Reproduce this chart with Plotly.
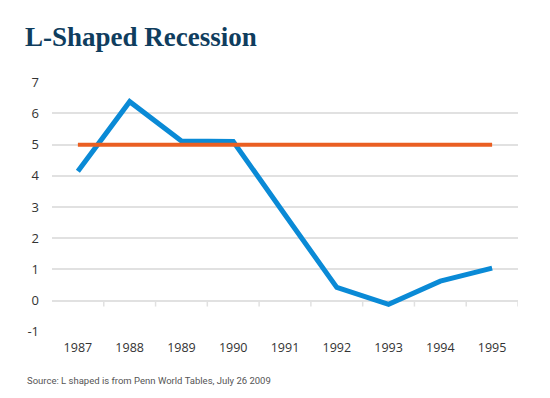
import plotly.graph_objects as go

years = ["1987", "1988", "1989", "1990", "1991", "1992", "1993", "1994", "1995"]
l_shaped = [4.15, 6.38, 5.12, 5.1, 2.75, 0.42, -0.12, 0.62, 1.04]
trend = [5, 5, 5, 5, 5, 5, 5, 5, 5]
y_ticks = [-1, 0, 1, 2, 3, 4, 5, 6, 7]
y_labels = ["-1", "0", "1", "2", "3", "4", "5", "6", "7"]

BLUE = "#0a8ad6"
ORANGE = "#ea5f22"
GRID = "#e1e1e1"
TEXT = "#333333"

fig = go.Figure()
fig.add_trace(go.Scatter(x=years, y=l_shaped, mode="lines",
                         line=dict(color=BLUE, width=5), hoverinfo="skip"))
fig.add_trace(go.Scatter(x=years, y=trend, mode="lines",
                         line=dict(color=ORANGE, width=4), hoverinfo="skip"))

# small tick marks at category boundaries on the zero line
for i in range(1, len(years) + 1):
    fig.add_shape(type="line", xref="x", yref="y", x0=i - 0.5, x1=i - 0.5,
                  ysizemode="pixel", yanchor=0, y0=0, y1=-6,
                  line=dict(color=GRID, width=1.5), layer="below")

fig.update_layout(
    width=542, height=390,
    margin=dict(l=44, r=32, t=74, b=66, autoexpand=False),
    paper_bgcolor="white", plot_bgcolor="white",
    showlegend=False,
    title=dict(text="<b>L-Shaped Recession</b>", x=0, xref="container", xanchor="left",
               y=1, yref="container", yanchor="top", pad=dict(l=17, t=19),
               automargin=False,
               font=dict(family="Liberation Serif", size=27, color="#0f3d5e")),
    annotations=[dict(text="Source: L shaped is from Penn World Tables, July 26 2009",
                      xref="paper", yref="paper", x=0, y=0, xanchor="left", yanchor="bottom",
                      xshift=-27, yshift=-56, showarrow=False,
                      font=dict(family="Roboto", size=9.5, color="#555555"))],
)
fig.update_xaxes(type="category", range=[-0.5, 8.5], showgrid=False, showline=False,
                 ticks="", tickfont=dict(family="Open Sans", size=12.5, color=TEXT),
                 ticklabelstandoff=6, automargin=False, fixedrange=True)
fig.update_yaxes(range=[-1.01, 7.01], tickvals=y_ticks, ticktext=y_labels,
                 showgrid=True, gridcolor=GRID,
                 gridwidth=1.5, zeroline=True, zerolinecolor=GRID, zerolinewidth=1.5,
                 showline=False, ticks="", ticklabelstandoff=12, automargin=False,
                 tickfont=dict(family="Open Sans", size=13, color=TEXT), fixedrange=True)

fig.write_html("out.html")
